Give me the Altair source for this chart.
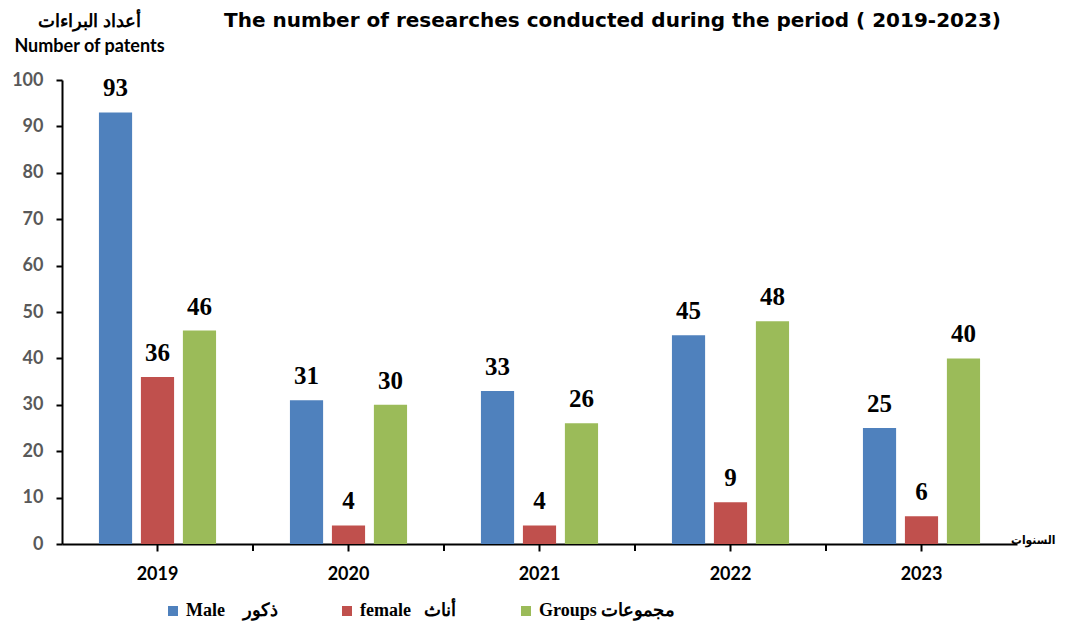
import altair as alt
import pandas as pd

years = ["2019", "2020", "2021", "2022", "2023"]
series = ["Male\u00a0\u00a0\u00a0\u00a0ذكور", "female\u00a0\u00a0\u00a0أناث", "Groups مجموعات"]
male = [93, 31, 33, 45, 25]
female = [36, 4, 4, 9, 6]
groups = [46, 30, 26, 48, 40]
colors = ["#4F81BD", "#C0504D", "#9BBB59"]

rows = []
for s, vals in zip(series, [male, female, groups]):
    for y, v in zip(years, vals):
        rows.append({"year": y, "series": s, "value": v})
df = pd.DataFrame(rows)
ticks_df = pd.DataFrame({"year": years[:-1]})

W, H = 955, 464

x_enc = alt.X(
    "year:N",
    sort=years,
    scale=alt.Scale(domain=years, paddingInner=0, paddingOuter=0),
    axis=alt.Axis(
        title="السنوات",
        titleX=993, titleY=-1, titleAlign="right", titleBaseline="alphabetic",
        titleFont="DejaVu Sans Condensed", titleFontSize=12, titleFontWeight="bold",
        titleColor="black",
        labelAngle=0, labelFont="Lato", labelFontSize=18, labelFontWeight="bold",
        labelColor="black", labelPadding=14,
        tickColor="black", tickSize=7, tickWidth=2,
        domainColor="black", domainWidth=2, grid=False,
    ),
)
xo_enc = alt.XOffset("series:N", sort=series,
                     scale=alt.Scale(domain=series, paddingInner=0.21, paddingOuter=0.88))
y_enc = alt.Y(
    "value:Q",
    scale=alt.Scale(domain=[0, 100], nice=False),
    axis=alt.Axis(
        values=list(range(0, 101, 10)),
        title=["أعداد البراءات", "Number of patents"],
        titleAngle=0, titleX=27, titleY=-54, titleAlign="center", titleBaseline="alphabetic",
        titleLineHeight=25, titleFont="Lato", titleFontSize=18, titleFontWeight="bold",
        titleColor="black",
        labelFont="Lato", labelFontSize=18, labelFontWeight="bold", labelColor="#595959",
        labelPadding=13, tickColor="black", tickSize=6, tickWidth=2,
        domainColor="black", domainWidth=2, grid=False,
    ),
)

bars = alt.Chart(df).mark_bar().encode(
    x=x_enc,
    xOffset=xo_enc,
    y=y_enc,
    color=alt.Color(
        "series:N",
        sort=series,
        scale=alt.Scale(domain=series, range=colors),
        legend=alt.Legend(
            title=None, orient="none", legendX=102, legendY=522, direction="horizontal",
            symbolType="square", symbolSize=100, symbolStrokeWidth=0,
            labelFont="Liberation Serif", labelFontSize=18, labelFontWeight="bold",
            labelColor="black", columnPadding=60, labelOffset=4, labelLimit=400,
        ),
    ),
)

labels = alt.Chart(df).mark_text(
    font="Liberation Serif", fontSize=25, fontWeight="bold", color="black",
    dy=-16, baseline="alphabetic",
).encode(
    x=alt.X("year:N", sort=years),
    xOffset=alt.XOffset("series:N", sort=series),
    y=alt.Y("value:Q"),
    text=alt.Text("value:Q"),
)

bticks = alt.Chart(ticks_df).mark_rule(color="black", strokeWidth=2).encode(
    x=alt.X("year:N", sort=years, bandPosition=1),
    y=alt.value(H),
    y2=alt.value(H + 7),
)

chart = alt.layer(bars, labels, bticks).properties(
    width=W, height=H,
    title=alt.TitleParams(
        "The number of researches conducted during the period ( 2019-2023)",
        font="DejaVu Sans", fontSize=20, fontWeight="bold", color="black",
        anchor="middle", frame="group", dx=73, dy=23,
    ),
    autosize=alt.AutoSizeParams(type="none"),
    padding={"left": 54, "top": 72, "right": 40, "bottom": 78},
).configure_view(stroke=None)

chart.save("out.html", embed_options={"renderer": "svg", "actions": False})
